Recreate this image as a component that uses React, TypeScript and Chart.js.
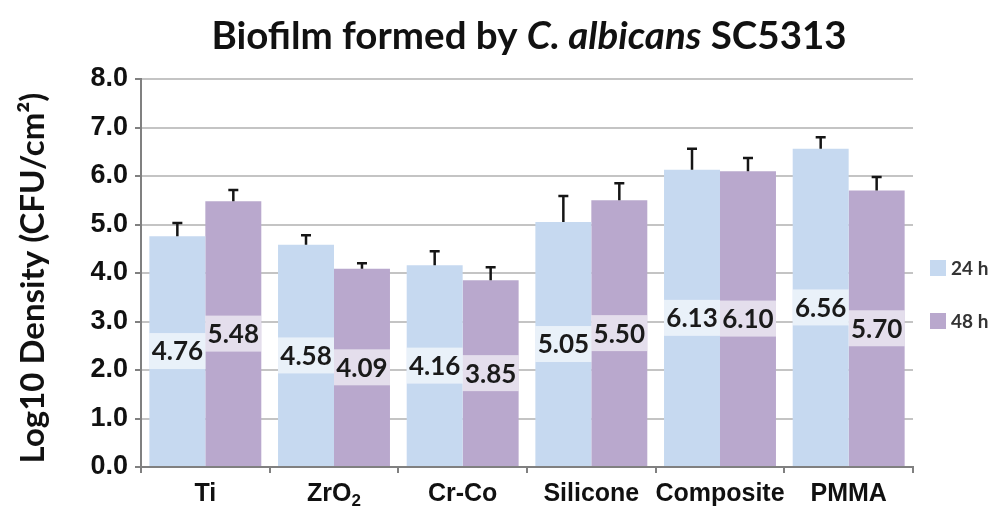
import React, { useEffect, useRef } from "react";
import { Chart, registerables } from "chart.js";

Chart.register(...registerables);

const categories = ["Ti", "ZrO2", "Cr-Co", "Silicone", "Composite", "PMMA"];
const seriesNames = ["24 h", "48 h"];
const values24h = [4.76, 4.58, 4.16, 5.05, 6.13, 6.56];
const values48h = [5.48, 4.09, 3.85, 5.5, 6.1, 5.7];
const errors24h = [0.27, 0.2, 0.29, 0.54, 0.43, 0.24];
const errors48h = [0.23, 0.11, 0.27, 0.35, 0.27, 0.28];
const yMin = 0;
const yMax = 8;
const yStep = 1;

const FONT = "Lato, 'Open Sans', 'DejaVu Sans', sans-serif";
const ARIAL = "'Liberation Sans', Arial, sans-serif";
const COLOR_24 = "#C6D9F0";
const COLOR_48 = "#B9A8CD";
const errorsBySeries = [errors24h, errors48h];

const titlePlugin = {
  id: "customTitle",
  afterDraw(chart: any) {
    const ctx = chart.ctx;
    const segs = [
      { t: "Biofilm formed by ", i: false },
      { t: "C. albicans", i: true },
      { t: " SC5313", i: false },
    ];
    const size = 38.5;
    ctx.save();
    let total = 0;
    const widths = segs.map((s) => {
      ctx.font = `${s.i ? "italic " : ""}bold ${size}px ${FONT}`;
      const w = ctx.measureText(s.t).width;
      total += w;
      return w;
    });
    let x = 529 - total / 2;
    ctx.fillStyle = "#111";
    ctx.textBaseline = "middle";
    ctx.textAlign = "left";
    segs.forEach((s, k) => {
      ctx.font = `${s.i ? "italic " : ""}bold ${size}px ${FONT}`;
      ctx.fillText(s.t, x, 37);
      x += widths[k];
    });
    ctx.restore();

    // y-axis title
    ctx.save();
    ctx.translate(33, 278);
    ctx.rotate(-Math.PI / 2);
    ctx.font = `bold 33px ${FONT}`;
    ctx.textAlign = "center";
    ctx.textBaseline = "middle";
    ctx.fillStyle = "#111";
    ctx.fillText("Log10 Density (CFU/cm²)", 0, 0);
    ctx.restore();

    // x category labels (with subscript for ZrO2)
    const xs = chart.scales.x;
    ctx.save();
    ctx.fillStyle = "#111";
    ctx.textBaseline = "middle";
    categories.forEach((c, i) => {
      const cx = xs.getPixelForValue(i);
      const y = 494;
      if (c === "ZrO2") {
        ctx.font = `bold 25px ${ARIAL}`;
        const w1 = ctx.measureText("ZrO").width;
        ctx.font = `bold 17px ${ARIAL}`;
        const w2 = ctx.measureText("2").width;
        const x0 = cx - (w1 + w2) / 2;
        ctx.textAlign = "left";
        ctx.font = `bold 25px ${ARIAL}`;
        ctx.fillText("ZrO", x0, y);
        ctx.font = `bold 17px ${ARIAL}`;
        ctx.fillText("2", x0 + w1, y + 7);
      } else {
        ctx.font = `bold 25px ${ARIAL}`;
        ctx.textAlign = "center";
        ctx.fillText(c, cx, y);
      }
    });
    ctx.restore();
  },
};

const legendPlugin = {
  id: "customLegend",
  afterDraw(chart: any) {
    const ctx = chart.ctx;
    ctx.save();
    const colors = [COLOR_24, COLOR_48];
    const ys = [268, 321];
    ctx.font = `bold 19px ${FONT}`;
    ctx.textBaseline = "middle";
    ctx.textAlign = "left";
    seriesNames.forEach((n, k) => {
      ctx.fillStyle = colors[k];
      ctx.fillRect(930, ys[k] - 8, 16, 16);
      ctx.fillStyle = "#333";
      ctx.fillText(n, 951, ys[k] + 1);
    });
    ctx.restore();
  },
};

const barExtrasPlugin = {
  id: "barExtras",
  afterDatasetsDraw(chart: any) {
    const ctx = chart.ctx;
    const yScale = chart.scales.y;
    ctx.save();
    chart.data.datasets.forEach((ds: any, di: number) => {
      const meta = chart.getDatasetMeta(di);
      meta.data.forEach((bar: any, i: number) => {
        const v = ds.data[i];
        const e = errorsBySeries[di][i];
        const yTop = yScale.getPixelForValue(v + e);
        ctx.strokeStyle = "#151515";
        ctx.lineWidth = 2.5;
        ctx.beginPath();
        ctx.moveTo(bar.x, bar.y);
        ctx.lineTo(bar.x, yTop);
        ctx.moveTo(bar.x - 5, yTop);
        ctx.lineTo(bar.x + 5, yTop);
        ctx.stroke();
        const cy = (bar.y + bar.base) / 2;
        const w = bar.width;
        ctx.fillStyle = "rgba(255,255,255,0.62)";
        ctx.fillRect(bar.x - w / 2, cy - 18, w, 36);
        ctx.fillStyle = "#1a1a1a";
        ctx.font = `bold 26px ${FONT}`;
        ctx.textAlign = "center";
        ctx.textBaseline = "middle";
        ctx.fillText(v.toFixed(2), bar.x, cy + 1);
      });
    });
    ctx.restore();
  },
};

export default function App() {
  const ref = useRef<HTMLCanvasElement | null>(null);
  useEffect(() => {
    if (!ref.current) return;
    const chart = new Chart(ref.current, {
      type: "bar",
      data: {
        labels: categories,
        datasets: [
          { label: seriesNames[0], data: values24h, backgroundColor: COLOR_24, categoryPercentage: 0.87, barPercentage: 1 },
          { label: seriesNames[1], data: values48h, backgroundColor: COLOR_48, categoryPercentage: 0.87, barPercentage: 1 },
        ],
      },
      options: {
        animation: false,
        responsive: false,
        maintainAspectRatio: false,
        layout: { padding: { top: 79, right: 81, left: 0, bottom: 0 } },
        plugins: { legend: { display: false }, title: { display: false }, tooltip: { enabled: false } },
        scales: {
          x: {
            afterFit(scale: any) {
              scale.height = 41;
            },
            grid: { drawOnChartArea: false, drawTicks: true, tickLength: 6, color: "#808080", lineWidth: 2 },
            border: { display: true, color: "#808080", width: 2 },
            ticks: { display: false },
          },
          y: {
            min: yMin,
            max: yMax,
            afterFit(scale: any) {
              scale.width = 141;
            },
            ticks: {
              stepSize: yStep,
              color: "#111",
              padding: 7,
              font: { family: ARIAL, size: 27, weight: "bold" },
              callback: (v: any) => Number(v).toFixed(1),
            },
            grid: { color: "#C4C4C4", lineWidth: 2, tickLength: 6, tickColor: "#808080" },
            border: { display: true, color: "#808080", width: 2 },
          },
        },
      },
      plugins: [barExtrasPlugin, titlePlugin, legendPlugin],
    });
    return () => chart.destroy();
  }, []);
  return (
    <div style={{ position: "fixed", left: 0, top: 0, width: 994, height: 508, background: "#fff" }}>
      <canvas ref={ref} width={994} height={508} />
    </div>
  );
}
